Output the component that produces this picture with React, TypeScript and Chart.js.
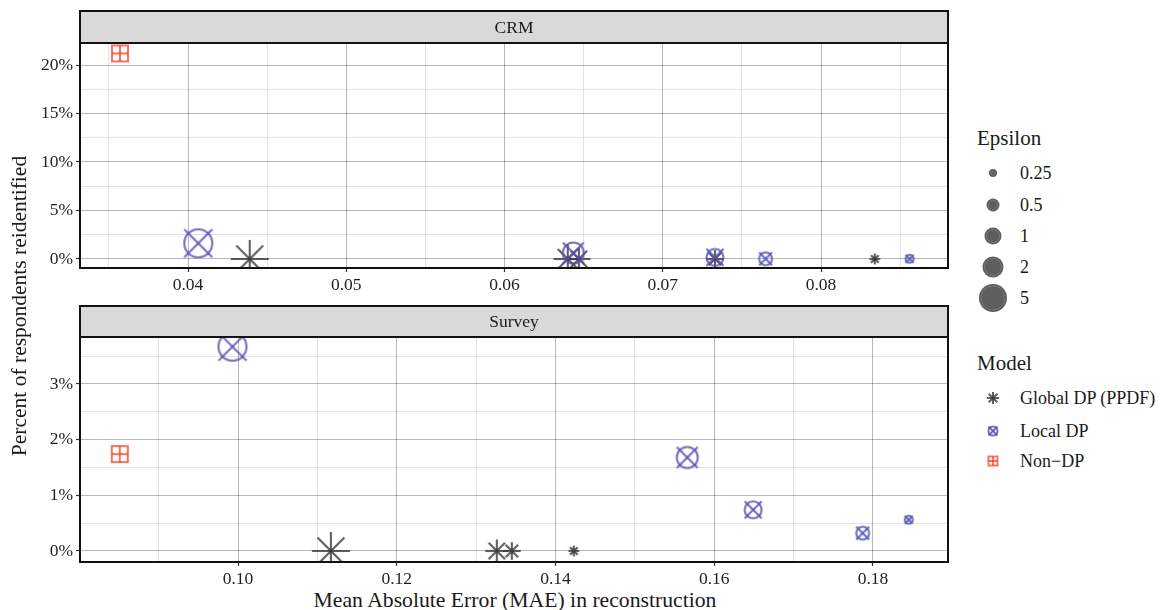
import React, { useEffect, useRef } from "react";
import { Chart, registerables } from "chart.js";

Chart.register(...registerables);

const FONT = '"Liberation Serif", "DejaVu Serif", Times, serif';

// ---------- data ----------
const epsilonLevels = [0.25, 0.5, 1, 2, 5];
const modelNames = ["Global DP (PPDF)", "Local DP", "Non\u2212DP"];
const panelNames = ["CRM", "Survey"];

// CRM panel
const crmGlobalEps = [5, 2, 1, 0.5, 0.25];
const crmGlobalMAE = [0.0439, 0.064, 0.0647, 0.0733, 0.0834];
const crmGlobalReid = [0, 0, 0, 0, 0];
const crmLocalEps = [5, 2, 1, 0.5, 0.25];
const crmLocalMAE = [0.04065, 0.06435, 0.0733, 0.0765, 0.0856];
const crmLocalReid = [1.62, 0.62, 0.17, 0.02, 0.02];
const crmNonDpMAE = [0.0357];
const crmNonDpReid = [21.2];

// Survey panel
const surveyGlobalEps = [5, 1, 0.5, 0.25];
const surveyGlobalMAE = [0.1117, 0.1326, 0.1345, 0.1423];
const surveyGlobalReid = [0, 0, 0, 0];
const surveyLocalEps = [5, 2, 1, 0.5, 0.25];
const surveyLocalMAE = [0.0993, 0.1566, 0.1649, 0.1787, 0.1845];
const surveyLocalReid = [3.67, 1.68, 0.74, 0.32, 0.56];
const surveyNonDpMAE = [0.0851];
const surveyNonDpReid = [1.74];

// ticks
const crmXMajor = [0.04, 0.05, 0.06, 0.07, 0.08];
const crmXMinor = [0.035, 0.045, 0.055, 0.065, 0.075, 0.085];
const crmYMajor = [0, 5, 10, 15, 20];
const crmYMinor = [2.5, 7.5, 12.5, 17.5];
const surveyXMajor = [0.1, 0.12, 0.14, 0.16, 0.18];
const surveyXMinor = [0.09, 0.11, 0.13, 0.15, 0.17];
const surveyYMajor = [0, 1, 2, 3];
const surveyYMinor = [0.5, 1.5, 2.5, 3.5];

// ---------- styles ----------
const COLORS: Record<string, string> = {
  asterisk: "rgba(60,60,60,0.82)",
  circlex: "rgba(85,80,180,0.82)",
  squareplus: "rgba(240,65,35,0.72)",
};
const EPS_DIAM: Record<string, number> = { "0.25": 8, "0.5": 13, "1": 17, "2": 21, "5": 28 };
const NONDP_DIAM = 16;

function drawMarker(ctx: CanvasRenderingContext2D, shape: string, d: number, cx: number, cy: number, lw = 2.1) {
  ctx.strokeStyle = COLORS[shape];
  ctx.lineWidth = lw;
  ctx.lineCap = "butt";
  const r = d / 2;
  const line = (x1: number, y1: number, x2: number, y2: number) => {
    ctx.beginPath();
    ctx.moveTo(x1, y1);
    ctx.lineTo(x2, y2);
    ctx.stroke();
  };
  if (shape === "asterisk") {
    const L = r * 1.36;
    const q = L * Math.SQRT1_2;
    line(cx - L, cy, cx + L, cy);
    line(cx, cy - L, cx, cy + L);
    line(cx - q, cy - q, cx + q, cy + q);
    line(cx - q, cy + q, cx + q, cy - q);
  } else if (shape === "circlex") {
    ctx.beginPath();
    ctx.arc(cx, cy, r, 0, Math.PI * 2);
    ctx.stroke();
    line(cx - r, cy - r, cx + r, cy + r);
    line(cx - r, cy + r, cx + r, cy - r);
  } else {
    ctx.strokeRect(cx - r, cy - r, 2 * r, 2 * r);
    line(cx - r, cy, cx + r, cy);
    line(cx, cy - r, cx, cy + r);
  }
}

const markerCache: Record<string, HTMLCanvasElement> = {};
function markerFor(shape: string, d: number): HTMLCanvasElement {
  const key = shape + "_" + d;
  if (markerCache[key]) return markerCache[key];
  let size = Math.ceil(d * 1.4 + 6);
  if (size % 2) size += 1;
  const c = document.createElement("canvas");
  c.width = size;
  c.height = size;
  const ctx = c.getContext("2d")!;
  drawMarker(ctx, shape, d, size / 2, size / 2);
  markerCache[key] = c;
  return c;
}

function makeDataset(label: string, xs: number[], ys: number[], eps: number[] | null, shape: string) {
  return {
    label,
    data: xs.map((x, i) => ({ x, y: ys[i], eps: eps ? eps[i] : null })),
    pointStyle: (c: any) => {
      const e = c.raw ? c.raw.eps : null;
      const d = e == null ? NONDP_DIAM : EPS_DIAM[String(e)];
      return markerFor(shape, d);
    },
    pointRadius: 4,
    pointHoverRadius: 4,
    showLine: false,
  };
}

const near = (arr: number[], v: number) => arr.some((a) => Math.abs(a - v) < 1e-9);

function axisCfg(
  min: number,
  max: number,
  major: number[],
  minor: number[],
  fmt: (v: number) => string,
  isX: boolean
) {
  return {
    type: "linear",
    position: isX ? "bottom" : "left",
    min,
    max,
    bounds: "data",
    afterBuildTicks: (s: any) => {
      s.ticks = [...major, ...minor].sort((a, b) => a - b).map((v) => ({ value: v }));
    },
    afterFit: (s: any) => {
      if (isX) s.height = 22;
      else s.width = 80;
    },
    ticks: {
      autoSkip: false,
      maxRotation: 0,
      minRotation: 0,
      padding: 3,
      color: "#1f1f1f",
      font: { family: FONT, size: 17.5 },
      callback: (v: number) => (near(major, v) ? fmt(v) : ""),
    },
    grid: {
      drawTicks: true,
      tickLength: 4,
      lineWidth: 1,
      color: (c: any) => (c.tick && near(major, c.tick.value) ? "rgba(0,0,0,0.28)" : "rgba(0,0,0,0.11)"),
      tickColor: (c: any) => (c.tick && near(major, c.tick.value) ? "#333" : "rgba(0,0,0,0)"),
      tickWidth: 1.2,
    },
    border: { display: false },
  };
}

const panelPlugin = {
  id: "panelDecor",
  afterDraw(chart: any, _args: any, opts: any) {
    const { ctx } = chart;
    const { left, top, right, bottom } = chart.chartArea;
    ctx.save();
    ctx.fillStyle = "#d9d9d9";
    ctx.fillRect(left, opts.stripTop, right - left, top - opts.stripTop);
    ctx.strokeStyle = "#111";
    ctx.lineWidth = 2;
    ctx.strokeRect(left, opts.stripTop, right - left, top - opts.stripTop);
    ctx.strokeRect(left, top, right - left, bottom - top);
    ctx.fillStyle = "#1a1a1a";
    ctx.font = `17.5px ${FONT}`;
    ctx.textAlign = "center";
    ctx.textBaseline = "middle";
    ctx.fillText(opts.label, (left + right) / 2, (opts.stripTop + top) / 2 + 1);
    ctx.restore();
  },
};

function Panel(props: {
  top: number;
  height: number;
  padTop: number;
  stripTop: number;
  label: string;
  datasets: any[];
  x: any;
  y: any;
}) {
  const ref = useRef<HTMLCanvasElement>(null);
  useEffect(() => {
    const chart = new Chart(ref.current!, {
      type: "scatter",
      data: { datasets: props.datasets },
      options: {
        responsive: false,
        animation: false,
        devicePixelRatio: 1,
        events: [],
        layout: { padding: { top: props.padTop, right: 12, left: 0, bottom: 0 } },
        plugins: {
          legend: { display: false },
          tooltip: { enabled: false },
          panelDecor: { stripTop: props.stripTop, label: props.label },
        } as any,
        scales: { x: props.x, y: props.y } as any,
      },
      plugins: [panelPlugin],
    } as any);
    return () => chart.destroy();
  }, []);
  return (
    <canvas
      ref={ref}
      width={960}
      height={props.height}
      style={{ position: "absolute", left: 0, top: props.top, width: 960, height: props.height }}
    />
  );
}

function MarkerIcon({ shape, d }: { shape: string; d: number }) {
  const ref = useRef<HTMLCanvasElement>(null);
  useEffect(() => {
    const ctx = ref.current!.getContext("2d")!;
    ctx.clearRect(0, 0, 24, 24);
    drawMarker(ctx, shape, d, 12, 12, 2);
  }, []);
  return <canvas ref={ref} width={24} height={24} style={{ position: "absolute", left: -12, top: -12 }} />;
}

const pct = (v: number) => `${v}%`;
const dec = (v: number) => v.toFixed(2);

export default function App() {
  const crmDatasets = [
    makeDataset(modelNames[2], crmNonDpMAE, crmNonDpReid, null, "squareplus"),
    makeDataset(modelNames[1], crmLocalMAE, crmLocalReid, crmLocalEps, "circlex"),
    makeDataset(modelNames[0], crmGlobalMAE, crmGlobalReid, crmGlobalEps, "asterisk"),
  ];
  const surveyDatasets = [
    makeDataset(modelNames[2], surveyNonDpMAE, surveyNonDpReid, null, "squareplus"),
    makeDataset(modelNames[1], surveyLocalMAE, surveyLocalReid, surveyLocalEps, "circlex"),
    makeDataset(modelNames[0], surveyGlobalMAE, surveyGlobalReid, surveyGlobalEps, "asterisk"),
  ];

  const epsRowsY = [173, 205, 236, 267, 298];
  const modelRowsY = [398, 431, 461];
  const modelShapes = ["asterisk", "circlex", "squareplus"];
  const modelIconD = [9, 9, 9];

  return (
    <div
      style={{
        position: "absolute",
        left: 0,
        top: 0,
        width: 1161,
        height: 610,
        background: "#fff",
        fontFamily: FONT,
        color: "#1a1a1a",
        overflow: "hidden",
      }}
    >
      <Panel
        top={0}
        height={290}
        padTop={43}
        stripTop={11}
        label={panelNames[0]}
        datasets={crmDatasets}
        x={axisCfg(0.033175, 0.088025, crmXMajor, crmXMinor, dec, true)}
        y={axisCfg(-0.93, 22.27, crmYMajor, crmYMinor, pct, false)}
      />
      <Panel
        top={295}
        height={289}
        padTop={42}
        stripTop={11}
        label={panelNames[1]}
        datasets={surveyDatasets}
        x={axisCfg(0.08009, 0.18945, surveyXMajor, surveyXMinor, dec, true)}
        y={axisCfg(-0.198, 3.844, surveyYMajor, surveyYMinor, pct, false)}
      />

      {/* axis titles */}
      <div
        style={{
          position: "absolute",
          left: 19 - 250,
          top: 306 - 14,
          width: 500,
          height: 28,
          lineHeight: "28px",
          textAlign: "center",
          fontSize: 21.5,
          transform: "rotate(-90deg)",
          whiteSpace: "nowrap",
        }}
      >
        Percent of respondents reidentified
      </div>
      <div
        style={{
          position: "absolute",
          left: 515 - 300,
          top: 600 - 14,
          width: 600,
          height: 28,
          lineHeight: "28px",
          textAlign: "center",
          fontSize: 21.7,
          whiteSpace: "nowrap",
        }}
      >
        Mean Absolute Error (MAE) in reconstruction
      </div>

      {/* legend: Epsilon */}
      <div style={{ position: "absolute", left: 977, top: 138 - 14, lineHeight: "28px", fontSize: 21 }}>Epsilon</div>
      {epsilonLevels.map((e, i) => {
        const d = EPS_DIAM[String(e)];
        return (
          <React.Fragment key={"e" + i}>
            <svg
              width={34}
              height={34}
              style={{ position: "absolute", left: 993 - 17, top: epsRowsY[i] - 17 }}
            >
              <circle cx={17} cy={17} r={d / 2} fill="#5e5e5e" />
              <circle cx={17} cy={17} r={Math.max(d / 2 - 2, 1)} fill="none" stroke="#7c7c7c" strokeWidth={0.8} />
            </svg>
            <div
              style={{
                position: "absolute",
                left: 1020,
                top: epsRowsY[i] - 12,
                lineHeight: "24px",
                fontSize: 18,
                whiteSpace: "nowrap",
              }}
            >
              {String(e)}
            </div>
          </React.Fragment>
        );
      })}

      {/* legend: Model */}
      <div style={{ position: "absolute", left: 977, top: 363 - 14, lineHeight: "28px", fontSize: 21 }}>Model</div>
      {modelNames.map((m, i) => (
        <React.Fragment key={"m" + i}>
          <div style={{ position: "absolute", left: 993, top: modelRowsY[i] }}>
            <MarkerIcon shape={modelShapes[i]} d={modelIconD[i]} />
          </div>
          <div
            style={{
              position: "absolute",
              left: 1020,
              top: modelRowsY[i] - 12,
              lineHeight: "24px",
              fontSize: 18,
              whiteSpace: "nowrap",
            }}
          >
            {m}
          </div>
        </React.Fragment>
      ))}
    </div>
  );
}
